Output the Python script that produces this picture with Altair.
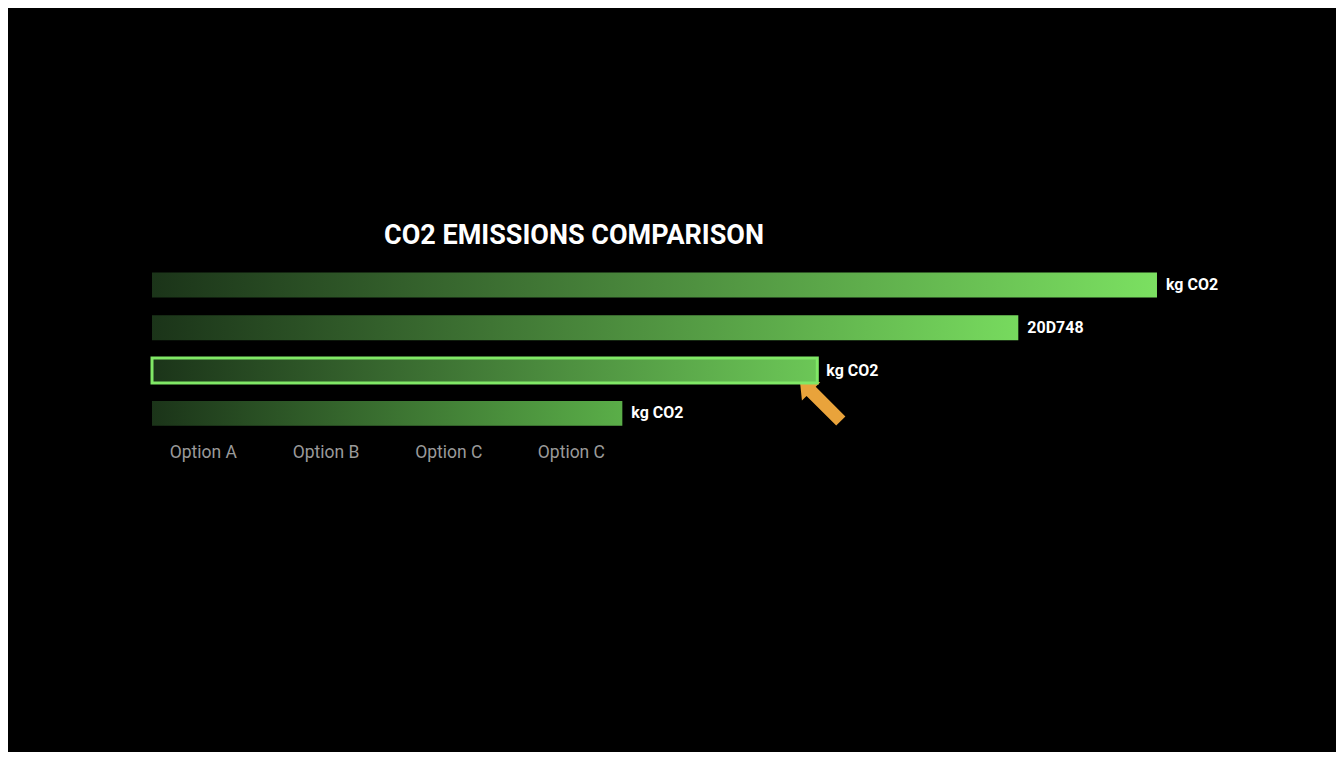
import altair as alt
import pandas as pd

# ---- data ----
options = ["Option A", "Option B", "Option C", "Option C"]
emissions = [100.0, 86.2, 66.2, 46.8]
value_labels = ["kg CO2", "20D748", "kg CO2", "kg CO2"]
highlight = [False, False, True, False]
title_text = "CO2 EMISSIONS COMPARISON"

# ---- styles ----
start_color = "#1b3419"
end_colors = ["#7be061", "#77da5e", "#6cc757", "#5aae48"]
outline_color = "#80e866"
arrow_color = "#e9a33b"
ARROW = ("M -1 -1 L 0 -0.896 L -0.224 -0.672 L 1.224 0.776 "
         "L 0.776 1.224 L -0.672 -0.224 L -0.896 0 Z")
FONT = "Roboto"

rows = [f"r{i}" for i in range(len(emissions))]
y_domain = rows + ["axis"]

bars_df = pd.DataFrame({
    "idx": list(range(len(emissions))),
    "row": rows,
    "emissions": emissions,
    "label": value_labels,
    "highlight": highlight,
})
axis_df = pd.DataFrame({
    "idx": list(range(len(options))),
    "option": options,
    "row": ["axis"] * len(options),
})


def grad(c):
    return {
        "gradient": "linear", "x1": 0, "x2": 1, "y1": 0, "y2": 0,
        "stops": [{"offset": 0, "color": start_color}, {"offset": 1, "color": c}],
    }


x_enc = alt.X("emissions:Q", scale=alt.Scale(domain=[0, 100], nice=False, zero=True), axis=None)
y_enc = alt.Y("row:N", scale=alt.Scale(domain=y_domain, paddingInner=0.42, paddingOuter=0.21), axis=None)

fill_def = {
    "condition": [{"test": f"datum.idx == {i}", "value": grad(c)} for i, c in enumerate(end_colors)],
    "value": grad(end_colors[0]),
}

base = alt.Chart(bars_df)

arrow = base.transform_filter("datum.highlight").mark_point(
    shape=ARROW, size=1681, filled=True, fill=arrow_color, strokeWidth=0,
    opacity=1, xOffset=3, yOffset=30,
).encode(x=x_enc, y=y_enc)

bars = base.mark_bar().encode(
    x=x_enc,
    y=y_enc,
    fill=fill_def,
    stroke=alt.condition("datum.highlight", alt.value(outline_color), alt.value("transparent")),
    strokeWidth=alt.condition("datum.highlight", alt.value(3), alt.value(0)),
)

value_text = base.mark_text(
    align="left", baseline="middle", dx=9, font=FONT, fontSize=16,
    fontWeight="bold", color="#ffffff",
).encode(x=x_enc, y=y_enc, text="label:N")

option_text = alt.Chart(axis_df).mark_text(
    align="center", baseline="middle", dy=-3, font=FONT, fontSize=17.5, color="#9a9a9a",
).encode(
    x=alt.X("idx:O", scale=alt.Scale(type="point", padding=0, range=[51.3, 419.4]), axis=None),
    y=y_enc,
    text="option:N",
)

chart = alt.layer(arrow, bars, value_text, option_text).resolve_scale(
    x="independent"
).properties(
    width=1005,
    height=213.85,
    padding={"left": 144, "top": 255.6, "right": 179, "bottom": 275},
    autosize=alt.AutoSizeParams(type="none"),
    background="#000000",
    title=alt.TitleParams(
        title_text, anchor="middle", frame="group", dx=-80.5, offset=-7.4,
        baseline="alphabetic", font=FONT, fontSize=27, fontWeight="bold", color="#ffffff",
    ),
).configure_view(strokeWidth=0)

chart.save("out.html", embed_options={"renderer": "svg", "actions": False})
